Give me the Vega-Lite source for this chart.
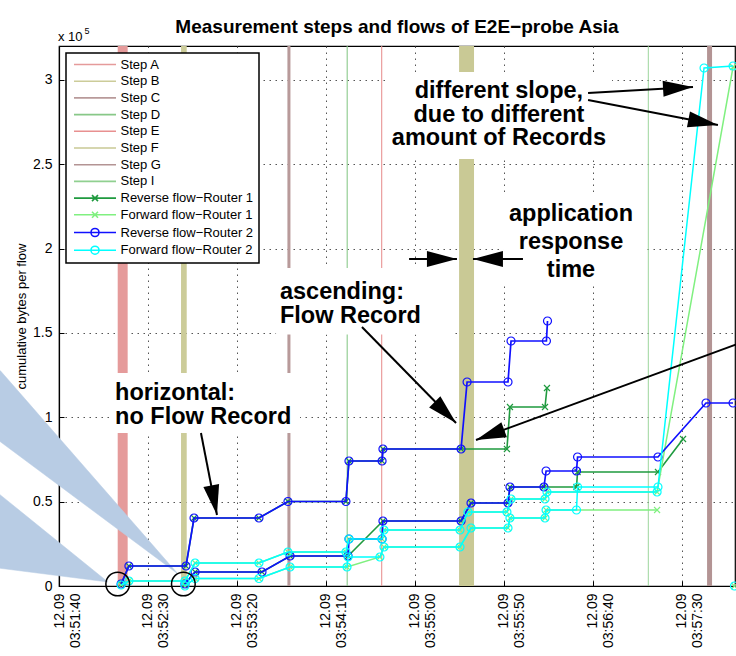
{
  "$schema": "https://vega.github.io/schema/vega-lite/v6.json",
  "width": 676,
  "height": 540,
  "autosize": "none",
  "padding": {"left": 59, "top": 46, "right": 1, "bottom": 70},
  "background": "white",
  "title": {"text": "Measurement steps and flows of E2E−probe Asia", "font": "Liberation Sans", "fontSize": 19, "fontWeight": "bold", "color": "black", "offset": -10, "anchor": "middle", "frame": "group"},
  "config": {
    "view": {"stroke": "black", "strokeWidth": 1.2},
    "axis": {"labelFont": "Liberation Sans", "titleFont": "Liberation Sans", "labelColor": "black", "titleColor": "black", "domainColor": "black", "domainWidth": 1.2, "tickColor": "black", "gridColor": "#555555", "gridDash": [1.5, 4.5], "gridWidth": 1, "gridOpacity": 1},
    "legend": {"strokeWidth": 1.5}
  },
  "datasets": {
    "steps": [
      {"series": "Step A", "time": "2009-09-12T03:52:13.0Z", "time2": "2009-09-12T03:52:18.6Z"},
      {"series": "Step B", "time": "2009-09-12T03:52:48.6Z", "time2": "2009-09-12T03:52:51.8Z"},
      {"series": "Step C", "time": "2009-09-12T03:53:48.4Z", "time2": "2009-09-12T03:53:50.1Z"},
      {"series": "Step D", "time": "2009-09-12T03:54:21.7Z", "time2": "2009-09-12T03:54:22.3Z"},
      {"series": "Step E", "time": "2009-09-12T03:54:41.1Z", "time2": "2009-09-12T03:54:41.7Z"},
      {"series": "Step F", "time": "2009-09-12T03:55:24.9Z", "time2": "2009-09-12T03:55:33.3Z"},
      {"series": "Step G", "time": "2009-09-12T03:57:44.3Z", "time2": "2009-09-12T03:57:47.1Z"},
      {"series": "Step I", "time": "2009-09-12T03:57:11.0Z", "time2": "2009-09-12T03:57:11.5Z"}
    ],
    "boxes": [
      {"time": "2009-09-12T03:52:09.8Z", "time2": "2009-09-12T03:53:55.5Z", "bytes": 126222, "bytes2": 90667},
      {"time": "2009-09-12T03:53:42.0Z", "time2": "2009-09-12T03:55:21.0Z", "bytes": 188444, "bytes2": 149000},
      {"time": "2009-09-12T03:54:43.3Z", "time2": "2009-09-12T03:56:50.9Z", "bytes": 304593, "bytes2": 253037},
      {"time": "2009-09-12T03:55:49.6Z", "time2": "2009-09-12T03:57:08.3Z", "bytes": 231111, "bytes2": 180148}
    ],
    "wedges": [
      {"wedge": "W1", "time": "2009-09-12T03:51:05.7Z", "bytes": 129185},
      {"wedge": "W1", "time": "2009-09-12T03:52:46.9Z", "bytes": 7111},
      {"wedge": "W1", "time": "2009-09-12T03:51:05.7Z", "bytes": 86519},
      {"wedge": "W2", "time": "2009-09-12T03:51:05.7Z", "bytes": 55111},
      {"wedge": "W2", "time": "2009-09-12T03:52:07.5Z", "bytes": 2370},
      {"wedge": "W2", "time": "2009-09-12T03:51:05.7Z", "bytes": 10667}
    ],
    "flows": [
      {"series": "Reverse flow−Router 1", "flow": "G1", "time": "2009-09-12T03:52:14.9Z", "bytes": 1185},
      {"series": "Reverse flow−Router 1", "flow": "G1", "time": "2009-09-12T03:52:19.3Z", "bytes": 11852},
      {"series": "Reverse flow−Router 1", "flow": "G1", "time": "2009-09-12T03:52:51.4Z", "bytes": 11852},
      {"series": "Reverse flow−Router 1", "flow": "G1", "time": "2009-09-12T03:52:55.9Z", "bytes": 40296},
      {"series": "Reverse flow−Router 1", "flow": "G1", "time": "2009-09-12T03:53:32.4Z", "bytes": 40296},
      {"series": "Reverse flow−Router 1", "flow": "G1", "time": "2009-09-12T03:53:48.7Z", "bytes": 50074},
      {"series": "Reverse flow−Router 1", "flow": "G1", "time": "2009-09-12T03:54:21.3Z", "bytes": 50074},
      {"series": "Reverse flow−Router 1", "flow": "G1", "time": "2009-09-12T03:54:23.0Z", "bytes": 74074},
      {"series": "Reverse flow−Router 1", "flow": "G1", "time": "2009-09-12T03:54:41.6Z", "bytes": 74074},
      {"series": "Reverse flow−Router 1", "flow": "G1", "time": "2009-09-12T03:54:42.1Z", "bytes": 81185},
      {"series": "Reverse flow−Router 1", "flow": "G1", "time": "2009-09-12T03:55:26.0Z", "bytes": 81185},
      {"series": "Reverse flow−Router 1", "flow": "G1", "time": "2009-09-12T03:55:51.8Z", "bytes": 81185},
      {"series": "Reverse flow−Router 1", "flow": "G1", "time": "2009-09-12T03:55:53.5Z", "bytes": 106074},
      {"series": "Reverse flow−Router 1", "flow": "G1", "time": "2009-09-12T03:56:13.2Z", "bytes": 106074},
      {"series": "Reverse flow−Router 1", "flow": "G1", "time": "2009-09-12T03:56:14.3Z", "bytes": 117333},
      {"series": "Reverse flow−Router 1", "flow": "G2", "time": "2009-09-12T03:52:50.8Z", "bytes": 1185},
      {"series": "Reverse flow−Router 1", "flow": "G2", "time": "2009-09-12T03:52:56.5Z", "bytes": 8296},
      {"series": "Reverse flow−Router 1", "flow": "G2", "time": "2009-09-12T03:53:34.1Z", "bytes": 8296},
      {"series": "Reverse flow−Router 1", "flow": "G2", "time": "2009-09-12T03:53:49.9Z", "bytes": 17778},
      {"series": "Reverse flow−Router 1", "flow": "G2", "time": "2009-09-12T03:54:22.5Z", "bytes": 17778},
      {"series": "Reverse flow−Router 1", "flow": "G2", "time": "2009-09-12T03:54:42.1Z", "bytes": 38519},
      {"series": "Reverse flow−Router 1", "flow": "G2", "time": "2009-09-12T03:55:26.0Z", "bytes": 38519},
      {"series": "Reverse flow−Router 1", "flow": "G2", "time": "2009-09-12T03:55:31.6Z", "bytes": 49185},
      {"series": "Reverse flow−Router 1", "flow": "G2", "time": "2009-09-12T03:55:52.4Z", "bytes": 49185},
      {"series": "Reverse flow−Router 1", "flow": "G2", "time": "2009-09-12T03:55:53.5Z", "bytes": 58667},
      {"series": "Reverse flow−Router 1", "flow": "G2", "time": "2009-09-12T03:56:12.6Z", "bytes": 58667},
      {"series": "Reverse flow−Router 1", "flow": "G2", "time": "2009-09-12T03:56:30.9Z", "bytes": 58667},
      {"series": "Reverse flow−Router 1", "flow": "G2", "time": "2009-09-12T03:56:31.5Z", "bytes": 67556},
      {"series": "Reverse flow−Router 1", "flow": "G2", "time": "2009-09-12T03:57:16.7Z", "bytes": 67556},
      {"series": "Reverse flow−Router 1", "flow": "G2", "time": "2009-09-12T03:57:30.8Z", "bytes": 87111},
      {"series": "Forward flow−Router 1", "flow": "LG1", "time": "2009-09-12T03:52:14.9Z", "bytes": 593},
      {"series": "Forward flow−Router 1", "flow": "LG1", "time": "2009-09-12T03:52:19.3Z", "bytes": 2963},
      {"series": "Forward flow−Router 1", "flow": "LG1", "time": "2009-09-12T03:52:50.8Z", "bytes": 2963},
      {"series": "Forward flow−Router 1", "flow": "LG1", "time": "2009-09-12T03:52:56.5Z", "bytes": 13630},
      {"series": "Forward flow−Router 1", "flow": "LG1", "time": "2009-09-12T03:53:32.4Z", "bytes": 13630},
      {"series": "Forward flow−Router 1", "flow": "LG1", "time": "2009-09-12T03:53:48.7Z", "bytes": 20148},
      {"series": "Forward flow−Router 1", "flow": "LG1", "time": "2009-09-12T03:54:21.3Z", "bytes": 20148},
      {"series": "Forward flow−Router 1", "flow": "LG1", "time": "2009-09-12T03:54:23.0Z", "bytes": 27852},
      {"series": "Forward flow−Router 1", "flow": "LG1", "time": "2009-09-12T03:54:41.6Z", "bytes": 27852},
      {"series": "Forward flow−Router 1", "flow": "LG1", "time": "2009-09-12T03:54:42.7Z", "bytes": 33185},
      {"series": "Forward flow−Router 1", "flow": "LG1", "time": "2009-09-12T03:55:25.4Z", "bytes": 33185},
      {"series": "Forward flow−Router 1", "flow": "LG1", "time": "2009-09-12T03:55:29.9Z", "bytes": 43852},
      {"series": "Forward flow−Router 1", "flow": "LG1", "time": "2009-09-12T03:55:51.8Z", "bytes": 43852},
      {"series": "Forward flow−Router 1", "flow": "LG1", "time": "2009-09-12T03:55:54.1Z", "bytes": 51556},
      {"series": "Forward flow−Router 1", "flow": "LG1", "time": "2009-09-12T03:56:13.2Z", "bytes": 51556},
      {"series": "Forward flow−Router 1", "flow": "LG1", "time": "2009-09-12T03:56:14.3Z", "bytes": 55704},
      {"series": "Forward flow−Router 1", "flow": "LG1", "time": "2009-09-12T03:57:16.2Z", "bytes": 55704},
      {"series": "Forward flow−Router 1", "flow": "LG1", "time": "2009-09-12T03:57:58.9Z", "bytes": 307556},
      {"series": "Forward flow−Router 1", "flow": "LG2", "time": "2009-09-12T03:52:50.8Z", "bytes": 0},
      {"series": "Forward flow−Router 1", "flow": "LG2", "time": "2009-09-12T03:52:56.5Z", "bytes": 4444},
      {"series": "Forward flow−Router 1", "flow": "LG2", "time": "2009-09-12T03:53:32.4Z", "bytes": 4444},
      {"series": "Forward flow−Router 1", "flow": "LG2", "time": "2009-09-12T03:53:49.9Z", "bytes": 11259},
      {"series": "Forward flow−Router 1", "flow": "LG2", "time": "2009-09-12T03:54:21.9Z", "bytes": 11259},
      {"series": "Forward flow−Router 1", "flow": "LG2", "time": "2009-09-12T03:54:40.4Z", "bytes": 17185},
      {"series": "Forward flow−Router 1", "flow": "LG2", "time": "2009-09-12T03:54:42.7Z", "bytes": 23111},
      {"series": "Forward flow−Router 1", "flow": "LG2", "time": "2009-09-12T03:55:25.4Z", "bytes": 23111},
      {"series": "Forward flow−Router 1", "flow": "LG2", "time": "2009-09-12T03:55:31.6Z", "bytes": 34370},
      {"series": "Forward flow−Router 1", "flow": "LG2", "time": "2009-09-12T03:55:52.4Z", "bytes": 34370},
      {"series": "Forward flow−Router 1", "flow": "LG2", "time": "2009-09-12T03:55:53.5Z", "bytes": 40296},
      {"series": "Forward flow−Router 1", "flow": "LG2", "time": "2009-09-12T03:56:13.2Z", "bytes": 40296},
      {"series": "Forward flow−Router 1", "flow": "LG2", "time": "2009-09-12T03:56:13.8Z", "bytes": 45037},
      {"series": "Forward flow−Router 1", "flow": "LG2", "time": "2009-09-12T03:57:16.2Z", "bytes": 45037},
      {"series": "Forward flow−Router 1", "flow": "LG3", "time": "2009-09-12T03:57:59.7Z", "bytes": 0},
      {"series": "Reverse flow−Router 2", "flow": "B1", "time": "2009-09-12T03:52:14.9Z", "bytes": 1185},
      {"series": "Reverse flow−Router 2", "flow": "B1", "time": "2009-09-12T03:52:19.3Z", "bytes": 11852},
      {"series": "Reverse flow−Router 2", "flow": "B1", "time": "2009-09-12T03:52:51.4Z", "bytes": 11852},
      {"series": "Reverse flow−Router 2", "flow": "B1", "time": "2009-09-12T03:52:55.9Z", "bytes": 40296},
      {"series": "Reverse flow−Router 2", "flow": "B1", "time": "2009-09-12T03:53:32.4Z", "bytes": 40296},
      {"series": "Reverse flow−Router 2", "flow": "B1", "time": "2009-09-12T03:53:48.7Z", "bytes": 50074},
      {"series": "Reverse flow−Router 2", "flow": "B1", "time": "2009-09-12T03:54:21.3Z", "bytes": 50074},
      {"series": "Reverse flow−Router 2", "flow": "B1", "time": "2009-09-12T03:54:23.0Z", "bytes": 74074},
      {"series": "Reverse flow−Router 2", "flow": "B1", "time": "2009-09-12T03:54:41.6Z", "bytes": 74074},
      {"series": "Reverse flow−Router 2", "flow": "B1", "time": "2009-09-12T03:54:42.1Z", "bytes": 81185},
      {"series": "Reverse flow−Router 2", "flow": "B1", "time": "2009-09-12T03:55:26.0Z", "bytes": 81185},
      {"series": "Reverse flow−Router 2", "flow": "B1", "time": "2009-09-12T03:55:29.4Z", "bytes": 120889},
      {"series": "Reverse flow−Router 2", "flow": "B1", "time": "2009-09-12T03:55:52.4Z", "bytes": 120889},
      {"series": "Reverse flow−Router 2", "flow": "B1", "time": "2009-09-12T03:55:54.1Z", "bytes": 145185},
      {"series": "Reverse flow−Router 2", "flow": "B1", "time": "2009-09-12T03:56:14.0Z", "bytes": 145185},
      {"series": "Reverse flow−Router 2", "flow": "B1", "time": "2009-09-12T03:56:14.6Z", "bytes": 157037},
      {"series": "Reverse flow−Router 2", "flow": "B2", "time": "2009-09-12T03:52:50.8Z", "bytes": 1185},
      {"series": "Reverse flow−Router 2", "flow": "B2", "time": "2009-09-12T03:52:56.5Z", "bytes": 8296},
      {"series": "Reverse flow−Router 2", "flow": "B2", "time": "2009-09-12T03:53:34.1Z", "bytes": 8296},
      {"series": "Reverse flow−Router 2", "flow": "B2", "time": "2009-09-12T03:53:49.9Z", "bytes": 17778},
      {"series": "Reverse flow−Router 2", "flow": "B2", "time": "2009-09-12T03:54:22.5Z", "bytes": 17778},
      {"series": "Reverse flow−Router 2", "flow": "B2", "time": "2009-09-12T03:54:23.0Z", "bytes": 27852},
      {"series": "Reverse flow−Router 2", "flow": "B2", "time": "2009-09-12T03:54:41.6Z", "bytes": 27852},
      {"series": "Reverse flow−Router 2", "flow": "B2", "time": "2009-09-12T03:54:42.1Z", "bytes": 38519},
      {"series": "Reverse flow−Router 2", "flow": "B2", "time": "2009-09-12T03:55:26.0Z", "bytes": 38519},
      {"series": "Reverse flow−Router 2", "flow": "B2", "time": "2009-09-12T03:55:31.6Z", "bytes": 49185},
      {"series": "Reverse flow−Router 2", "flow": "B2", "time": "2009-09-12T03:55:52.4Z", "bytes": 49185},
      {"series": "Reverse flow−Router 2", "flow": "B2", "time": "2009-09-12T03:55:53.5Z", "bytes": 58667},
      {"series": "Reverse flow−Router 2", "flow": "B2", "time": "2009-09-12T03:56:12.6Z", "bytes": 58667},
      {"series": "Reverse flow−Router 2", "flow": "B2", "time": "2009-09-12T03:56:13.8Z", "bytes": 68148},
      {"series": "Reverse flow−Router 2", "flow": "B2", "time": "2009-09-12T03:56:30.9Z", "bytes": 68148},
      {"series": "Reverse flow−Router 2", "flow": "B2", "time": "2009-09-12T03:56:31.5Z", "bytes": 76444},
      {"series": "Reverse flow−Router 2", "flow": "B2", "time": "2009-09-12T03:57:16.7Z", "bytes": 76444},
      {"series": "Reverse flow−Router 2", "flow": "B2", "time": "2009-09-12T03:57:43.7Z", "bytes": 108444},
      {"series": "Reverse flow−Router 2", "flow": "B2", "time": "2009-09-12T03:57:58.9Z", "bytes": 108444},
      {"series": "Forward flow−Router 2", "flow": "C1", "time": "2009-09-12T03:52:14.9Z", "bytes": 593},
      {"series": "Forward flow−Router 2", "flow": "C1", "time": "2009-09-12T03:52:19.3Z", "bytes": 2963},
      {"series": "Forward flow−Router 2", "flow": "C1", "time": "2009-09-12T03:52:50.8Z", "bytes": 2963},
      {"series": "Forward flow−Router 2", "flow": "C1", "time": "2009-09-12T03:52:56.5Z", "bytes": 13630},
      {"series": "Forward flow−Router 2", "flow": "C1", "time": "2009-09-12T03:53:32.4Z", "bytes": 13630},
      {"series": "Forward flow−Router 2", "flow": "C1", "time": "2009-09-12T03:53:48.7Z", "bytes": 20148},
      {"series": "Forward flow−Router 2", "flow": "C1", "time": "2009-09-12T03:54:21.3Z", "bytes": 20148},
      {"series": "Forward flow−Router 2", "flow": "C1", "time": "2009-09-12T03:54:23.0Z", "bytes": 27852},
      {"series": "Forward flow−Router 2", "flow": "C1", "time": "2009-09-12T03:54:41.6Z", "bytes": 27852},
      {"series": "Forward flow−Router 2", "flow": "C1", "time": "2009-09-12T03:54:42.7Z", "bytes": 33185},
      {"series": "Forward flow−Router 2", "flow": "C1", "time": "2009-09-12T03:55:25.4Z", "bytes": 33185},
      {"series": "Forward flow−Router 2", "flow": "C1", "time": "2009-09-12T03:55:29.9Z", "bytes": 43852},
      {"series": "Forward flow−Router 2", "flow": "C1", "time": "2009-09-12T03:55:51.8Z", "bytes": 43852},
      {"series": "Forward flow−Router 2", "flow": "C1", "time": "2009-09-12T03:55:54.1Z", "bytes": 51556},
      {"series": "Forward flow−Router 2", "flow": "C1", "time": "2009-09-12T03:56:13.2Z", "bytes": 51556},
      {"series": "Forward flow−Router 2", "flow": "C1", "time": "2009-09-12T03:56:14.3Z", "bytes": 55704},
      {"series": "Forward flow−Router 2", "flow": "C1", "time": "2009-09-12T03:57:16.2Z", "bytes": 55704},
      {"series": "Forward flow−Router 2", "flow": "C2", "time": "2009-09-12T03:52:50.8Z", "bytes": 0},
      {"series": "Forward flow−Router 2", "flow": "C2", "time": "2009-09-12T03:52:56.5Z", "bytes": 4444},
      {"series": "Forward flow−Router 2", "flow": "C2", "time": "2009-09-12T03:53:32.4Z", "bytes": 4444},
      {"series": "Forward flow−Router 2", "flow": "C2", "time": "2009-09-12T03:53:49.9Z", "bytes": 11259},
      {"series": "Forward flow−Router 2", "flow": "C2", "time": "2009-09-12T03:54:21.9Z", "bytes": 11259},
      {"series": "Forward flow−Router 2", "flow": "C2", "time": "2009-09-12T03:54:22.5Z", "bytes": 17185},
      {"series": "Forward flow−Router 2", "flow": "C2", "time": "2009-09-12T03:54:40.4Z", "bytes": 17185},
      {"series": "Forward flow−Router 2", "flow": "C2", "time": "2009-09-12T03:54:42.7Z", "bytes": 23111},
      {"series": "Forward flow−Router 2", "flow": "C2", "time": "2009-09-12T03:55:25.4Z", "bytes": 23111},
      {"series": "Forward flow−Router 2", "flow": "C2", "time": "2009-09-12T03:55:31.6Z", "bytes": 34370},
      {"series": "Forward flow−Router 2", "flow": "C2", "time": "2009-09-12T03:55:52.4Z", "bytes": 34370},
      {"series": "Forward flow−Router 2", "flow": "C2", "time": "2009-09-12T03:55:53.5Z", "bytes": 40296},
      {"series": "Forward flow−Router 2", "flow": "C2", "time": "2009-09-12T03:56:13.2Z", "bytes": 40296},
      {"series": "Forward flow−Router 2", "flow": "C2", "time": "2009-09-12T03:56:13.8Z", "bytes": 45037},
      {"series": "Forward flow−Router 2", "flow": "C2", "time": "2009-09-12T03:56:30.9Z", "bytes": 45037},
      {"series": "Forward flow−Router 2", "flow": "C2", "time": "2009-09-12T03:56:31.5Z", "bytes": 58667},
      {"series": "Forward flow−Router 2", "flow": "C2", "time": "2009-09-12T03:57:16.7Z", "bytes": 58667},
      {"series": "Forward flow−Router 2", "flow": "C2", "time": "2009-09-12T03:57:42.6Z", "bytes": 306963},
      {"series": "Forward flow−Router 2", "flow": "C2", "time": "2009-09-12T03:57:58.9Z", "bytes": 308148},
      {"series": "Forward flow−Router 2", "flow": "C3", "time": "2009-09-12T03:57:59.7Z", "bytes": 0}
    ],
    "arrows": [
      {"time": "2009-09-12T03:57:36.4Z", "bytes": 295704, "time2": "2009-09-12T03:56:37.4Z", "bytes2": 292148, "angle": 356.7},
      {"time": "2009-09-12T03:57:50.4Z", "bytes": 273185, "time2": "2009-09-12T03:56:37.4Z", "bytes2": 288000, "angle": 10.9},
      {"time": "2009-09-12T03:55:23.7Z", "bytes": 193778, "time2": "2009-09-12T03:54:56.8Z", "bytes2": 193778, "angle": 0},
      {"time": "2009-09-12T03:55:32.7Z", "bytes": 193778, "time2": "2009-09-12T03:56:00.8Z", "bytes2": 193778, "angle": 180},
      {"time": "2009-09-12T03:55:23.2Z", "bytes": 96593, "time2": "2009-09-12T03:54:30.3Z", "bytes2": 153481, "angle": 44.7},
      {"time": "2009-09-12T03:55:34.4Z", "bytes": 86519, "time2": "2009-09-12T03:58:02.8Z", "bytes2": 144000, "angle": 159.8},
      {"time": "2009-09-12T03:53:08.8Z", "bytes": 42074, "time2": "2009-09-12T03:52:59.8Z", "bytes2": 90667, "angle": 79.0}
    ]
  },
  "layer": [
    {
      "data": {"values": [
        {"series": "Step A"}, {"series": "Step B"}, {"series": "Step C"}, {"series": "Step D"},
        {"series": "Step E"}, {"series": "Step F"}, {"series": "Step G"}, {"series": "Step I"},
        {"series": "Reverse flow−Router 1"}, {"series": "Forward flow−Router 1"},
        {"series": "Reverse flow−Router 2"}, {"series": "Forward flow−Router 2"}
      ]},
      "mark": {"type": "point", "filled": false, "opacity": 0},
      "encoding": {
        "color": {"field": "series", "type": "nominal",
          "scale": {"domain": ["Step A", "Step B", "Step C", "Step D", "Step E", "Step F", "Step G", "Step I", "Reverse flow−Router 1", "Forward flow−Router 1", "Reverse flow−Router 2", "Forward flow−Router 2"],
                    "range": ["#e59b9b", "#cccc99", "#b89a9a", "#88c888", "#e89090", "#c9c995", "#b39494", "#90d090", "#1f9a3f", "#80f080", "#1010ff", "#00ffff"]},
          "legend": {"title": null, "orient": "top-left", "offset": 7, "padding": 5, "fillColor": "white", "strokeColor": "black", "symbolSize": 16, "symbolStrokeWidth": 1.6, "symbolOpacity": 1, "symbolFillColor": "transparent", "symbolOffset": 17.5, "labelOffset": 19, "labelFont": "Liberation Sans", "labelFontSize": 13, "labelColor": "black", "rowPadding": 2.7, "labelLimit": 300,
                     "encode": {"symbols": {"enter": {"fill": {"value": "transparent"}}, "update": {"fill": {"value": "transparent"}}}}}},
        "shape": {"field": "series", "type": "nominal",
          "scale": {"domain": ["Step A", "Step B", "Step C", "Step D", "Step E", "Step F", "Step G", "Step I", "Reverse flow−Router 1", "Forward flow−Router 1", "Reverse flow−Router 2", "Forward flow−Router 2"],
                    "range": ["M-10.5,0H10.5", "M-10.5,0H10.5", "M-10.5,0H10.5", "M-10.5,0H10.5", "M-10.5,0H10.5", "M-10.5,0H10.5", "M-10.5,0H10.5", "M-10.5,0H10.5",
                              "M-10.5,0H10.5M-1.5,-1.5L1.5,1.5M-1.5,1.5L1.5,-1.5", "M-10.5,0H10.5M-1.5,-1.5L1.5,1.5M-1.5,1.5L1.5,-1.5",
                              "M-10.5,0H10.5M-2,0A2,2,0,1,0,2,0A2,2,0,1,0,-2,0", "M-10.5,0H10.5M-2,0A2,2,0,1,0,2,0A2,2,0,1,0,-2,0"]},
          "legend": {"title": null, "orient": "top-left", "offset": 7, "padding": 5, "fillColor": "white", "strokeColor": "black", "symbolSize": 16, "symbolStrokeWidth": 1.6, "symbolOpacity": 1, "symbolFillColor": "transparent", "symbolOffset": 17.5, "labelOffset": 19, "labelFont": "Liberation Sans", "labelFontSize": 13, "labelColor": "black", "rowPadding": 2.7, "labelLimit": 300,
                     "encode": {"symbols": {"enter": {"fill": {"value": "transparent"}}, "update": {"fill": {"value": "transparent"}}}}}}
      }
    },
    {
      "data": {"name": "steps"},
      "mark": {"type": "rect"},
      "encoding": {
        "x": {
          "field": "time", "type": "temporal",
          "scale": {"type": "utc", "domain": [{"year": 2009, "month": 9, "date": 12, "hours": 3, "minutes": 51, "seconds": 40, "utc": true}, {"year": 2009, "month": 9, "date": 12, "hours": 3, "minutes": 58, "seconds": 0, "utc": true}]},
          "axis": {
            "title": null,
            "values": [
              {"year": 2009, "month": 9, "date": 12, "hours": 3, "minutes": 51, "seconds": 40, "utc": true},
              {"year": 2009, "month": 9, "date": 12, "hours": 3, "minutes": 52, "seconds": 30, "utc": true},
              {"year": 2009, "month": 9, "date": 12, "hours": 3, "minutes": 53, "seconds": 20, "utc": true},
              {"year": 2009, "month": 9, "date": 12, "hours": 3, "minutes": 54, "seconds": 10, "utc": true},
              {"year": 2009, "month": 9, "date": 12, "hours": 3, "minutes": 55, "seconds": 0, "utc": true},
              {"year": 2009, "month": 9, "date": 12, "hours": 3, "minutes": 55, "seconds": 50, "utc": true},
              {"year": 2009, "month": 9, "date": 12, "hours": 3, "minutes": 56, "seconds": 40, "utc": true},
              {"year": 2009, "month": 9, "date": 12, "hours": 3, "minutes": 57, "seconds": 30, "utc": true}
            ],
            "labelExpr": "['12.09', utcFormat(datum.value, '%H:%M:%S')]",
            "labelAngle": 270, "labelAlign": "right", "labelBaseline": "middle",
            "labelFontSize": 14, "labelLineHeight": 16, "labelPadding": 12, "tickSize": -5,
            "grid": true, "labelFlush": false, "labelOverlap": false
          }
        },
        "x2": {"field": "time2"},
        "fill": {"field": "series", "type": "nominal", "legend": null,
          "scale": {"domain": ["Step A", "Step B", "Step C", "Step D", "Step E", "Step F", "Step G", "Step I"],
                    "range": ["#e59b9b", "#cccc99", "#b89a9a", "#88c888", "#e89090", "#c9c995", "#b39494", "#90d090"]}}
      }
    },
    {
      "data": {"name": "boxes"},
      "mark": {"type": "rect", "color": "white"},
      "encoding": {
        "x": {"field": "time", "type": "temporal"},
        "x2": {"field": "time2"},
        "y": {
          "field": "bytes", "type": "quantitative",
          "scale": {"domain": [0, 320000], "nice": false, "zero": true},
          "axis": {
            "title": "cumulative bytes per flow", "titleFontSize": 13, "titleFontWeight": "normal", "titlePadding": 4,
            "values": [0, 50000, 100000, 150000, 200000, 250000, 300000],
            "labelExpr": "'' + (datum.value / 100000)",
            "labelFontSize": 14, "labelPadding": 12, "tickSize": -5, "grid": true
          }
        },
        "y2": {"field": "bytes2"}
      }
    },
    {
      "data": {"name": "wedges"},
      "mark": {"type": "line", "interpolate": "linear-closed", "fill": "#b8cce4", "stroke": "#b8cce4", "strokeWidth": 0.5},
      "encoding": {"x": {"field": "time", "type": "temporal"}, "y": {"field": "bytes", "type": "quantitative"}, "detail": {"field": "wedge"}, "order": {"value": null}}
    },
    {
      "data": {"name": "flows"},
      "transform": [{"filter": "datum.series === 'Reverse flow−Router 1'"}],
      "mark": {"type": "line", "color": "#1f9a3f", "strokeWidth": 1.6},
      "encoding": {"x": {"field": "time", "type": "temporal"}, "y": {"field": "bytes", "type": "quantitative"}, "detail": {"field": "flow"}, "order": {"value": null}}
    },
    {
      "data": {"name": "flows"},
      "transform": [{"filter": "datum.series === 'Reverse flow−Router 1'"}],
      "mark": {"type": "point", "shape": "M-1,-1L1,1M-1,1L1,-1", "filled": false, "color": "#1f9a3f", "size": 36, "strokeWidth": 1.2, "opacity": 1},
      "encoding": {"x": {"field": "time", "type": "temporal"}, "y": {"field": "bytes", "type": "quantitative"}}
    },
    {
      "data": {"name": "flows"},
      "transform": [{"filter": "datum.series === 'Forward flow−Router 1'"}],
      "mark": {"type": "line", "color": "#80f080", "strokeWidth": 1.5},
      "encoding": {"x": {"field": "time", "type": "temporal"}, "y": {"field": "bytes", "type": "quantitative"}, "detail": {"field": "flow"}, "order": {"value": null}}
    },
    {
      "data": {"name": "flows"},
      "transform": [{"filter": "datum.series === 'Forward flow−Router 1'"}],
      "mark": {"type": "point", "shape": "M-1,-1L1,1M-1,1L1,-1", "filled": false, "color": "#80f080", "size": 36, "strokeWidth": 1.2, "opacity": 1},
      "encoding": {"x": {"field": "time", "type": "temporal"}, "y": {"field": "bytes", "type": "quantitative"}}
    },
    {
      "data": {"name": "flows"},
      "transform": [{"filter": "datum.series === 'Reverse flow−Router 2'"}],
      "mark": {"type": "line", "color": "#1010ff", "strokeWidth": 1.7},
      "encoding": {"x": {"field": "time", "type": "temporal"}, "y": {"field": "bytes", "type": "quantitative"}, "detail": {"field": "flow"}, "order": {"value": null}}
    },
    {
      "data": {"name": "flows"},
      "transform": [{"filter": "datum.series === 'Reverse flow−Router 2'"}],
      "mark": {"type": "point", "shape": "circle", "filled": false, "color": "#1010ff", "size": 64, "strokeWidth": 1.2, "opacity": 1},
      "encoding": {"x": {"field": "time", "type": "temporal"}, "y": {"field": "bytes", "type": "quantitative"}}
    },
    {
      "data": {"name": "flows"},
      "transform": [{"filter": "datum.series === 'Forward flow−Router 2'"}],
      "mark": {"type": "line", "color": "#00ffff", "strokeWidth": 1.5},
      "encoding": {"x": {"field": "time", "type": "temporal"}, "y": {"field": "bytes", "type": "quantitative"}, "detail": {"field": "flow"}, "order": {"value": null}}
    },
    {
      "data": {"name": "flows"},
      "transform": [{"filter": "datum.series === 'Forward flow−Router 2'"}],
      "mark": {"type": "point", "shape": "circle", "filled": false, "color": "#00ffff", "size": 64, "strokeWidth": 1.2, "opacity": 1},
      "encoding": {"x": {"field": "time", "type": "temporal"}, "y": {"field": "bytes", "type": "quantitative"}}
    },
    {
      "data": {"values": [
        {"time": "2009-09-12T03:52:13.0Z", "bytes": 1185},
        {"time": "2009-09-12T03:52:49.9Z", "bytes": 1185}
      ]},
      "mark": {"type": "point", "shape": "circle", "filled": false, "color": "black", "size": 560, "strokeWidth": 1.5, "opacity": 1},
      "encoding": {"x": {"field": "time", "type": "temporal"}, "y": {"field": "bytes", "type": "quantitative"}}
    },
    {
      "data": {"name": "arrows"},
      "mark": {"type": "rule", "color": "black", "strokeWidth": 2},
      "encoding": {"x": {"field": "time", "type": "temporal"}, "y": {"field": "bytes", "type": "quantitative"}, "x2": {"field": "time2"}, "y2": {"field": "bytes2"}}
    },
    {
      "data": {"name": "arrows"},
      "mark": {"type": "point", "shape": "M0,0L-3,-0.8L-3,0.8Z", "filled": true, "color": "black", "size": 400, "opacity": 1, "strokeWidth": 0},
      "encoding": {"x": {"field": "time", "type": "temporal"}, "y": {"field": "bytes", "type": "quantitative"}, "angle": {"field": "angle", "type": "quantitative", "scale": null}}
    },
    {
      "data": {"values": [
        {"label": "horizontal:\nno Flow Record", "time": "2009-09-12T03:52:11.5Z", "bytes": 114370},
        {"label": "ascending:\nFlow Record", "time": "2009-09-12T03:53:44.2Z", "bytes": 174518}
      ]},
      "mark": {"type": "text", "align": "left", "baseline": "middle", "font": "Liberation Sans", "fontSize": 23.5, "fontWeight": "bold", "lineBreak": "\n", "lineHeight": 24, "color": "black"},
      "encoding": {"x": {"field": "time", "type": "temporal"}, "y": {"field": "bytes", "type": "quantitative"}, "text": {"field": "label"}}
    },
    {
      "data": {"values": [
        {"label": "different slope,\ndue to different\namount of Records", "time": "2009-09-12T03:55:47.3Z", "bytes": 293333}
      ]},
      "mark": {"type": "text", "align": "center", "baseline": "middle", "font": "Liberation Sans", "fontSize": 23.5, "fontWeight": "bold", "lineBreak": "\n", "lineHeight": 23.5, "color": "black"},
      "encoding": {"x": {"field": "time", "type": "temporal"}, "y": {"field": "bytes", "type": "quantitative"}, "text": {"field": "label"}}
    },
    {
      "data": {"values": [
        {"label": "application\nresponse\ntime", "time": "2009-09-12T03:56:27.8Z", "bytes": 220444}
      ]},
      "mark": {"type": "text", "align": "center", "baseline": "middle", "font": "Liberation Sans", "fontSize": 23.5, "fontWeight": "bold", "lineBreak": "\n", "lineHeight": 28, "color": "black"},
      "encoding": {"x": {"field": "time", "type": "temporal"}, "y": {"field": "bytes", "type": "quantitative"}, "text": {"field": "label"}}
    },
    {
      "data": {"values": [{"label": "x 10", "time": "2009-09-12T03:51:40.0Z", "bytes": 320000}]},
      "mark": {"type": "text", "align": "left", "baseline": "middle", "font": "Liberation Sans", "fontSize": 13, "dx": -1, "dy": -9, "color": "black"},
      "encoding": {"x": {"field": "time", "type": "temporal"}, "y": {"field": "bytes", "type": "quantitative"}, "text": {"field": "label"}}
    },
    {
      "data": {"values": [{"label": "5", "time": "2009-09-12T03:51:40.0Z", "bytes": 320000}]},
      "mark": {"type": "text", "align": "left", "baseline": "middle", "font": "Liberation Sans", "fontSize": 9, "dx": 25.5, "dy": -15, "color": "black"},
      "encoding": {"x": {"field": "time", "type": "temporal"}, "y": {"field": "bytes", "type": "quantitative"}, "text": {"field": "label"}}
    }
  ]
}
